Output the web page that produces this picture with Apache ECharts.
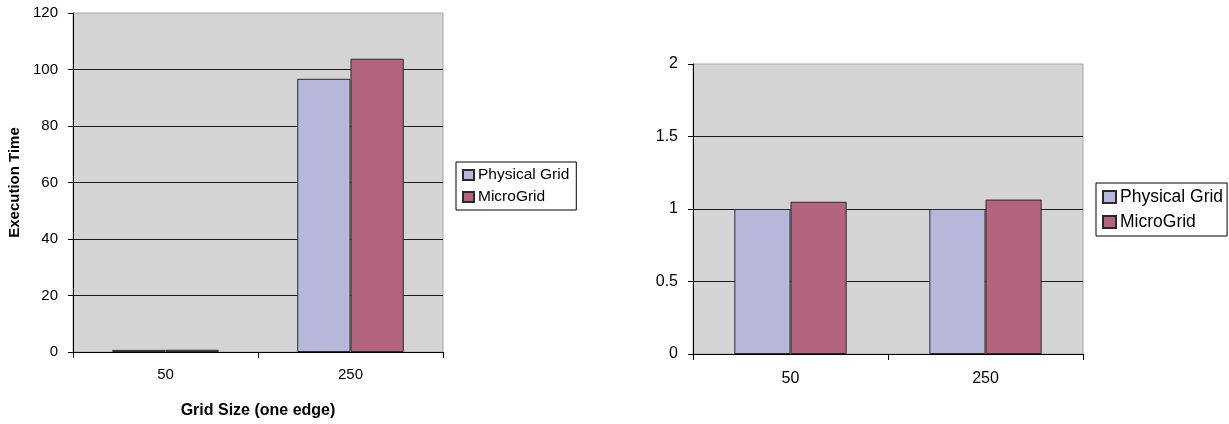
<!DOCTYPE html>
<html>
<head>
<meta charset="utf-8">
<script src="https://cdn.jsdelivr.net/npm/echarts@6/dist/echarts.min.js"></script>
<style>
html,body{margin:0;padding:0;background:#fff;}
#c{width:1229px;height:424px;}
</style>
</head>
<body>
<div id="c"></div>
<script>
// ---- data ----
const categories = ['50', '250'];
const seriesNames = ['Physical Grid', 'MicroGrid'];
// left chart: execution time
const timePhysical = [0.75, 96.7];
const timeMicro = [0.8, 103.8];
// right chart: normalized time
const normPhysical = [1.0, 1.0];
const normMicro = [1.05, 1.065];
// axes
const leftAxisMax = 120, leftAxisStep = 20;
const rightAxisMax = 2, rightAxisStep = 0.5;
const xAxisTitle = 'Grid Size (one edge)';
const yAxisTitle = 'Execution Time';

const colors = ['#B7B7D9', '#B5647F'];
const FONT = 'Liberation Sans, Arial, sans-serif';

const chart = echarts.init(document.getElementById('c'), null, {renderer: 'canvas'});

function yAxis(gridIndex, max, step, fs, name) {
  return {
    type: 'value', gridIndex, min: 0, max, interval: step,
    name: name || '', nameLocation: 'middle', nameGap: 51, nameRotate: 90,
    nameTextStyle: {fontFamily: FONT, fontWeight: 'bold', fontSize: 15, color: '#000'},
    axisLine: {show: true, lineStyle: {color: '#000', width: 1}},
    axisTick: {show: true, length: 5, lineStyle: {color: '#000'}},
    axisLabel: {color: '#000', fontFamily: FONT, fontSize: fs, margin: 15},
    splitLine: {show: true, showMaxLine: false, lineStyle: {color: '#1a1a1a', width: 1}}
  };
}
function xAxis(gridIndex, fs, margin, name) {
  return {
    type: 'category', gridIndex, data: categories,
    name: name || '', nameLocation: 'middle', nameGap: 51,
    nameTextStyle: {fontFamily: FONT, fontWeight: 'bold', fontSize: 16, color: '#000'},
    axisLine: {show: true, lineStyle: {color: '#000', width: 1}},
    axisTick: {show: true, length: 6, lineStyle: {color: '#000'}},
    axisLabel: {color: '#000', fontFamily: FONT, fontSize: fs, margin},
    splitLine: {show: false}
  };
}
function bar(name, data, xi, yi, ci) {
  return {
    name, type: 'bar', xAxisIndex: xi, yAxisIndex: yi, data,
    barWidth: '28.8%', barGap: '0%',
    itemStyle: {color: colors[ci], borderColor: '#2a2a2a', borderWidth: 1},
    emphasis: {disabled: true}, animation: false
  };
}
function legend(left, top, fs, pad, gap, iw, ih) {
  return {
    orient: 'vertical', left, top, data: seriesNames,
    backgroundColor: '#fff', borderColor: '#000', borderWidth: 1,
    padding: pad, itemGap: gap, itemWidth: iw, itemHeight: ih, icon: 'rect',
    textStyle: {fontFamily: FONT, fontSize: fs, color: '#000', padding: [0, 0, 0, -1]},
    selectedMode: false
  };
}

chart.setOption({
  animation: false,
  grid: [
    {left: 73, top: 13, width: 370, height: 346, show: true, backgroundColor: '#D4D4D6', borderColor: '#A6A6A6', borderWidth: 1, containLabel: false},
    {left: 693, top: 64, width: 390, height: 290, show: true, backgroundColor: '#D4D4D6', borderColor: '#A6A6A6', borderWidth: 1, containLabel: false}
  ],
  xAxis: [xAxis(0, 15, 15, xAxisTitle), xAxis(1, 16, 17)],
  yAxis: [yAxis(0, leftAxisMax, leftAxisStep, 15, yAxisTitle), yAxis(1, rightAxisMax, rightAxisStep, 16)],
  legend: [
    legend(456, 162, 15.5, [5, 7, 5, 6], 6, 11, 10),
    legend(1096, 183, 17.5, [5, 4, 5, 6], 7, 13, 12)
  ],
  series: [
    bar(seriesNames[0], timePhysical, 0, 0, 0),
    bar(seriesNames[1], timeMicro, 0, 0, 1),
    bar(seriesNames[0], normPhysical, 1, 1, 0),
    bar(seriesNames[1], normMicro, 1, 1, 1)
  ]
});
</script>
</body>
</html>
